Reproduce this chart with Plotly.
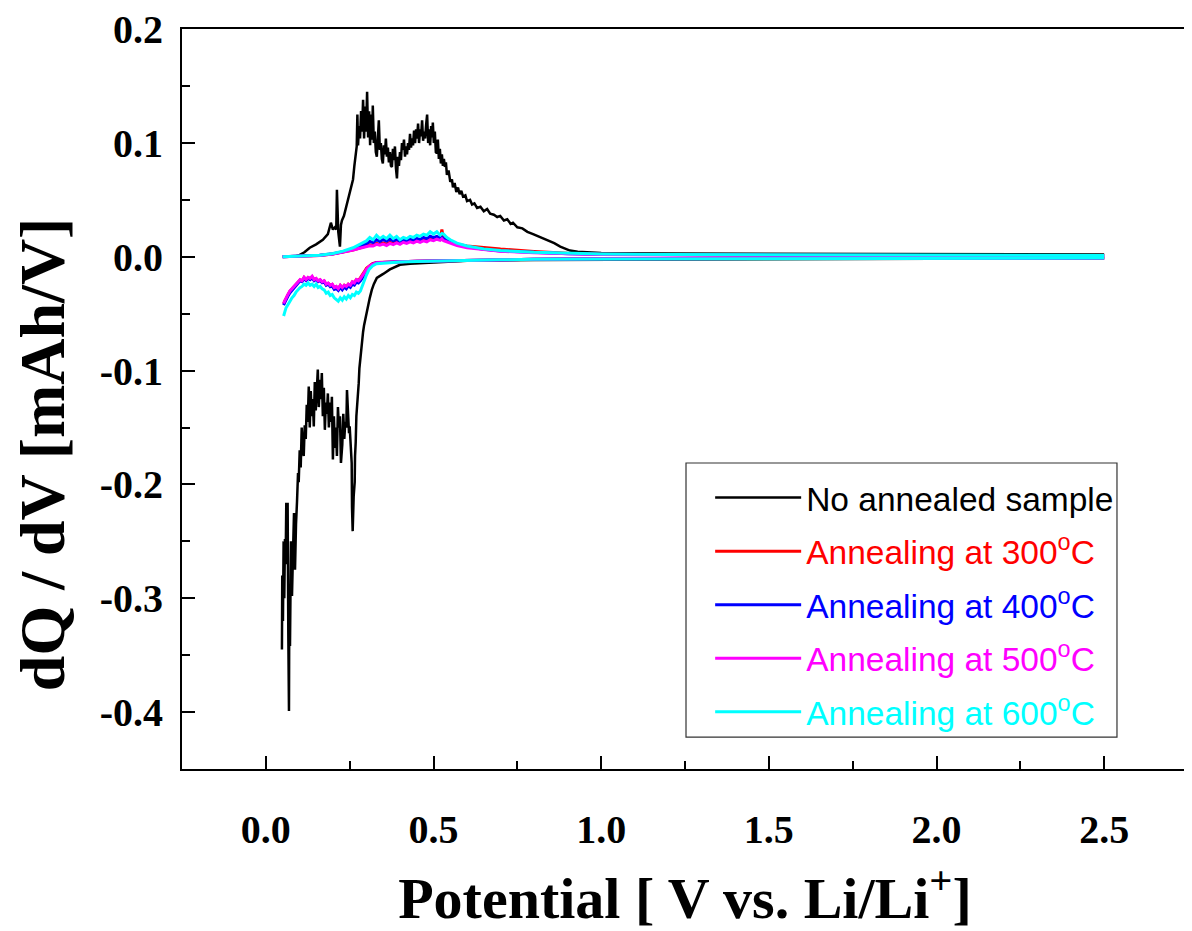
import plotly.graph_objects as go

# ---------------- data ----------------
series_names = [
    "No annealed sample",
    "Annealing at 300<sup>o</sup>C",
    "Annealing at 400<sup>o</sup>C",
    "Annealing at 500<sup>o</sup>C",
    "Annealing at 600<sup>o</sup>C",
]
series_colors = ["#000000", "#ff0000", "#0000ff", "#ff00ff", "#00ffff"]

x_tick_vals = [0.0, 0.5, 1.0, 1.5, 2.0, 2.5]
x_tick_labels = ["0.0", "0.5", "1.0", "1.5", "2.0", "2.5"]
y_tick_vals = [0.2, 0.1, 0.0, -0.1, -0.2, -0.3, -0.4]
y_tick_labels = ["0.2", "0.1", "0.0", "-0.1", "-0.2", "-0.3", "-0.4"]

x_title = "Potential [ V vs. Li/Li<sup>+</sup>]"
y_title = "dQ / dV [mAh/V]"

# --- No annealed sample: discharge (2.5 V -> 0.05 V)
black_dis_v = [2.5, 2.0, 1.5, 1.0, 0.8, 0.6, 0.528, 0.43, 0.40, 0.37, 0.35, 0.331, 0.322, 0.316,
               0.310, 0.304, 0.298, 0.293, 0.290, 0.286, 0.283, 0.281, 0.279, 0.277, 0.275, 0.272,
               0.270, 0.268, 0.266, 0.265, 0.262, 0.259, 0.257, 0.256, 0.253, 0.250, 0.248, 0.245,
               0.242, 0.240, 0.237, 0.234, 0.231, 0.228, 0.224, 0.221, 0.218, 0.215, 0.212, 0.209,
               0.206, 0.203, 0.200, 0.197, 0.194, 0.191, 0.188, 0.185, 0.182, 0.179, 0.176, 0.173,
               0.170, 0.167, 0.164, 0.161, 0.158, 0.155, 0.152, 0.149, 0.146, 0.143, 0.140, 0.137,
               0.134, 0.131, 0.128, 0.125, 0.122, 0.119, 0.116, 0.113, 0.110, 0.107, 0.104, 0.101,
               0.098, 0.096, 0.093, 0.090, 0.087, 0.084, 0.081, 0.078, 0.075, 0.072, 0.070, 0.069,
               0.067, 0.065, 0.063, 0.061, 0.059, 0.057, 0.055, 0.053, 0.051, 0.049, 0.048]
black_dis_dqdv = [-0.0012, -0.0015, -0.0018, -0.0022, -0.0028, -0.0035, -0.0045, -0.006, -0.007, -0.011,
                  -0.015, -0.0185, -0.024, -0.029, -0.036, -0.044, -0.055, -0.060, -0.066, -0.079,
                  -0.084, -0.095, -0.098, -0.111, -0.118, -0.132, -0.140, -0.163, -0.175, -0.198,
                  -0.210, -0.241, -0.220, -0.181, -0.165, -0.149, -0.155, -0.130, -0.117, -0.150,
                  -0.145, -0.160, -0.138, -0.165, -0.181, -0.140, -0.150, -0.132, -0.175, -0.150,
                  -0.168, -0.140, -0.178, -0.123, -0.145, -0.128, -0.150, -0.120, -0.138, -0.128,
                  -0.152, -0.115, -0.140, -0.102, -0.125, -0.108, -0.132, -0.099, -0.118, -0.135,
                  -0.110, -0.149, -0.125, -0.140, -0.118, -0.150, -0.114, -0.145, -0.130, -0.160,
                  -0.148, -0.175, -0.167, -0.150, -0.185, -0.170, -0.198, -0.190, -0.215, -0.235,
                  -0.275, -0.225, -0.260, -0.298, -0.250, -0.342, -0.300, -0.399, -0.330, -0.216,
                  -0.240, -0.216, -0.270, -0.248, -0.300, -0.250, -0.320, -0.280, -0.345]
# --- No annealed sample: charge (0.05 V -> 2.5 V)
black_chg_v = [0.090, 0.100, 0.115, 0.131, 0.150, 0.170, 0.185, 0.194, 0.200, 0.206, 0.210,
               0.212, 0.216, 0.221, 0.224, 0.227, 0.233, 0.238, 0.242, 0.248, 0.253, 0.257, 0.260,
               0.264, 0.268, 0.271, 0.273, 0.275, 0.278, 0.281, 0.284, 0.287, 0.290, 0.293, 0.296,
               0.299, 0.302, 0.305, 0.308, 0.311, 0.314, 0.317, 0.319, 0.322, 0.325, 0.328, 0.331,
               0.334, 0.337, 0.340, 0.343, 0.346, 0.349, 0.352, 0.355, 0.358, 0.361, 0.364, 0.367,
               0.370, 0.373, 0.376, 0.379, 0.382, 0.385, 0.388, 0.391, 0.394, 0.397, 0.400, 0.403,
               0.406, 0.409, 0.412, 0.415, 0.418, 0.421, 0.424, 0.427, 0.430, 0.433, 0.436, 0.439,
               0.442, 0.445, 0.448, 0.451, 0.454, 0.457, 0.460, 0.463, 0.466, 0.469, 0.472, 0.475,
               0.478, 0.481, 0.484, 0.487, 0.490, 0.493, 0.496, 0.498, 0.501, 0.504, 0.507, 0.510,
               0.513, 0.516, 0.519, 0.522, 0.525, 0.528, 0.531, 0.534, 0.537, 0.540, 0.545, 0.550,
               0.555, 0.558, 0.563, 0.568, 0.573, 0.578, 0.583, 0.588, 0.595, 0.600, 0.609, 0.615,
               0.622, 0.630, 0.640, 0.650, 0.660, 0.669, 0.680, 0.690, 0.699, 0.710, 0.720, 0.730,
               0.737, 0.750, 0.765, 0.780, 0.797, 0.820, 0.839, 0.860, 0.878, 0.895, 0.907, 0.930,
               0.958, 1.0, 1.2, 1.5, 2.0, 2.5]
black_chg_dqdv = [0.0005, 0.0015, 0.004, 0.008, 0.011, 0.015, 0.020, 0.030, 0.024, 0.026, 0.024,
                  0.059, 0.022, 0.009, 0.028, 0.032, 0.036, 0.042, 0.047, 0.053, 0.058, 0.064, 0.068,
                  0.080, 0.088, 0.097, 0.125, 0.098, 0.115, 0.104, 0.128, 0.110, 0.138, 0.104, 0.132,
                  0.110, 0.145, 0.105, 0.128, 0.098, 0.125, 0.103, 0.133, 0.100, 0.110, 0.092, 0.088,
                  0.105, 0.120, 0.094, 0.100, 0.086, 0.082, 0.098, 0.090, 0.104, 0.088, 0.096, 0.083,
                  0.092, 0.080, 0.079, 0.095, 0.085, 0.097, 0.078, 0.069, 0.088, 0.080, 0.092, 0.085,
                  0.100, 0.094, 0.103, 0.088, 0.097, 0.090, 0.100, 0.094, 0.108, 0.096, 0.104, 0.098,
                  0.111, 0.100, 0.112, 0.104, 0.117, 0.100, 0.112, 0.106, 0.120, 0.102, 0.110, 0.104,
                  0.116, 0.125, 0.100, 0.112, 0.098, 0.115, 0.105, 0.118, 0.100, 0.110, 0.092, 0.091,
                  0.103, 0.086, 0.095, 0.082, 0.090, 0.080, 0.086, 0.079, 0.083, 0.072, 0.076, 0.066,
                  0.068, 0.061, 0.065, 0.057, 0.061, 0.055, 0.058, 0.053, 0.054, 0.049, 0.050, 0.046,
                  0.047, 0.043, 0.044, 0.040, 0.042, 0.038, 0.037, 0.035, 0.036, 0.032, 0.033, 0.029,
                  0.030, 0.026, 0.025, 0.022, 0.020, 0.017, 0.015, 0.012, 0.009, 0.007, 0.0055, 0.0045,
                  0.0038, 0.0033, 0.0030, 0.0028, 0.0024, 0.0020]

# --- common potentials for the annealed samples
ann_dis_v = [2.5, 2.0, 1.5, 1.2, 1.0, 0.8, 0.7, 0.6, 0.5, 0.45, 0.40, 0.36, 0.33, 0.318, 0.308,
             0.300, 0.294, 0.288, 0.282, 0.276, 0.270, 0.264, 0.258, 0.252, 0.246, 0.240, 0.234,
             0.228, 0.222, 0.216, 0.210, 0.204, 0.198, 0.192, 0.186, 0.180, 0.174, 0.168, 0.162,
             0.156, 0.150, 0.144, 0.138, 0.132, 0.126, 0.120, 0.114, 0.108, 0.102, 0.096, 0.090,
             0.084, 0.078, 0.072, 0.066, 0.060, 0.056, 0.053]
ann_chg_v = [0.050, 0.08, 0.12, 0.16, 0.20, 0.23, 0.26, 0.28, 0.30, 0.31, 0.32, 0.33, 0.34, 0.35,
             0.36, 0.37, 0.38, 0.39, 0.40, 0.41, 0.42, 0.43, 0.44, 0.45, 0.46, 0.47, 0.48, 0.49,
             0.50, 0.51, 0.52, 0.525, 0.53, 0.54, 0.55, 0.57, 0.60, 0.65, 0.70, 0.80, 0.90, 1.0,
             1.2, 1.5, 2.0, 2.5]

# --- 300 C
red_dis_dqdv = [-0.0010, -0.0011, -0.0013, -0.0015, -0.0017, -0.0022, -0.0025, -0.0030, -0.0035,
                -0.0038, -0.0042, -0.0046, -0.0050, -0.0060, -0.0078, -0.0100, -0.0130, -0.0160,
                -0.0185, -0.0205, -0.0200, -0.0225, -0.0220, -0.0250, -0.0240, -0.0262, -0.0250,
                -0.0272, -0.0252, -0.0280, -0.0262, -0.0270, -0.0242, -0.0250, -0.0232, -0.0242,
                -0.0212, -0.0222, -0.0202, -0.0212, -0.0192, -0.0202, -0.0175, -0.0192, -0.0182,
                -0.0202, -0.0182, -0.0212, -0.0202, -0.0222, -0.0242, -0.0262, -0.0282, -0.0302,
                -0.0332, -0.0362, -0.0392, -0.0412]
red_chg_dqdv = [0.0, 0.0002, 0.0006, 0.0012, 0.0025, 0.004, 0.006, 0.0078, 0.0095, 0.0105, 0.010,
                0.0118, 0.011, 0.0122, 0.0112, 0.0128, 0.0118, 0.0132, 0.0122, 0.0136, 0.0128,
                0.0140, 0.0132, 0.0146, 0.0138, 0.0152, 0.0144, 0.0158, 0.0150, 0.0162, 0.0155,
                0.0240, 0.0150, 0.0140, 0.0128, 0.0110, 0.0095, 0.0080, 0.0068, 0.0048, 0.0032,
                0.0024, 0.0018, 0.0014, 0.0011, 0.0010]

# --- 400 C
blue_dis_dqdv = [-0.0010, -0.0011, -0.0013, -0.0015, -0.0017, -0.0022, -0.0025, -0.0030, -0.0035,
                 -0.0039, -0.0043, -0.0047, -0.0052, -0.0065, -0.0090, -0.0120, -0.0155, -0.0185,
                 -0.0210, -0.0230, -0.0222, -0.0248, -0.0240, -0.0268, -0.0255, -0.0280, -0.0265,
                 -0.0290, -0.0268, -0.0295, -0.0278, -0.0285, -0.0255, -0.0262, -0.0240, -0.0250,
                 -0.0220, -0.0228, -0.0208, -0.0218, -0.0198, -0.0210, -0.0185, -0.0200, -0.0188,
                 -0.0208, -0.0192, -0.0218, -0.0210, -0.0230, -0.0250, -0.0272, -0.0292, -0.0315,
                 -0.0345, -0.0375, -0.0405, -0.0425]
blue_chg_dqdv = [0.0, 0.0003, 0.0007, 0.0014, 0.0028, 0.0045, 0.007, 0.0092, 0.0115, 0.0135, 0.0125,
                 0.0150, 0.0135, 0.0152, 0.0138, 0.0156, 0.0140, 0.0152, 0.0136, 0.0150, 0.0140,
                 0.0156, 0.0146, 0.0162, 0.0152, 0.0170, 0.0160, 0.0182, 0.0168, 0.0180, 0.0165,
                 0.0172, 0.0160, 0.0150, 0.0135, 0.0110, 0.0088, 0.0066, 0.0052, 0.0037, 0.0028,
                 0.0022, 0.0018, 0.0015, 0.0012, 0.0011]

# --- 500 C
magenta_dis_dqdv = [-0.0010, -0.0011, -0.0013, -0.0015, -0.0017, -0.0022, -0.0025, -0.0030, -0.0035,
                    -0.0038, -0.0042, -0.0046, -0.0052, -0.0065, -0.0085, -0.0110, -0.0140, -0.0170,
                    -0.0190, -0.0210, -0.0200, -0.0230, -0.0220, -0.0250, -0.0240, -0.0260, -0.0250,
                    -0.0270, -0.0250, -0.0280, -0.0260, -0.0270, -0.0240, -0.0250, -0.0230, -0.0240,
                    -0.0210, -0.0220, -0.0200, -0.0210, -0.0190, -0.0200, -0.0170, -0.0190, -0.0180,
                    -0.0200, -0.0180, -0.0210, -0.0200, -0.0220, -0.0240, -0.0260, -0.0280, -0.0300,
                    -0.0330, -0.0360, -0.0390, -0.0410]
magenta_chg_dqdv = [0.0, 0.0002, 0.0006, 0.0012, 0.0025, 0.004, 0.006, 0.0075, 0.0090, 0.0098,
                    0.0095, 0.0110, 0.0102, 0.0112, 0.0100, 0.0118, 0.0108, 0.0122, 0.0110, 0.0128,
                    0.0118, 0.0132, 0.0122, 0.0138, 0.0128, 0.0140, 0.0132, 0.0150, 0.0142, 0.0155,
                    0.0145, 0.0158, 0.0142, 0.0130, 0.0120, 0.0100, 0.0080, 0.0065, 0.0050, 0.0035,
                    0.0025, 0.0020, 0.0016, 0.0013, 0.0011, 0.0010]

# --- 600 C
cyan_dis_dqdv = [-0.0010, -0.0012, -0.0014, -0.0016, -0.0018, -0.0022, -0.0026, -0.0030, -0.0036,
                 -0.0040, -0.0045, -0.0050, -0.0060, -0.0080, -0.0110, -0.0160, -0.0210, -0.0260,
                 -0.0300, -0.0320, -0.0310, -0.0340, -0.0330, -0.0360, -0.0340, -0.0370, -0.0350,
                 -0.0380, -0.0360, -0.0390, -0.0370, -0.0360, -0.0330, -0.0340, -0.0310, -0.0320,
                 -0.0290, -0.0280, -0.0260, -0.0270, -0.0240, -0.0260, -0.0240, -0.0250, -0.0230,
                 -0.0250, -0.0240, -0.0260, -0.0270, -0.0290, -0.0310, -0.0340, -0.0360, -0.0390,
                 -0.0420, -0.0450, -0.0490, -0.0520]
cyan_chg_dqdv = [0.0, 0.0003, 0.0008, 0.0015, 0.0030, 0.0050, 0.0080, 0.0110, 0.0140, 0.0170,
                 0.0150, 0.0190, 0.0160, 0.0180, 0.0160, 0.0190, 0.0160, 0.0180, 0.0150, 0.0170,
                 0.0160, 0.0180, 0.0170, 0.0190, 0.0180, 0.0200, 0.0190, 0.0220, 0.0200, 0.0220,
                 0.0190, 0.0205, 0.0200, 0.0170, 0.0150, 0.0120, 0.0095, 0.0070, 0.0055, 0.0040,
                 0.0030, 0.0024, 0.0020, 0.0017, 0.0014, 0.0012]

# discharge and charge branches are separate strokes (gap between them)
series_v = [
    black_dis_v + [None] + black_chg_v,
    ann_dis_v + [None] + ann_chg_v,
    ann_dis_v + [None] + ann_chg_v,
    ann_dis_v + [None] + ann_chg_v,
    ann_dis_v + [None] + ann_chg_v,
]
series_dqdv = [
    black_dis_dqdv + [None] + black_chg_dqdv,
    red_dis_dqdv + [None] + red_chg_dqdv,
    blue_dis_dqdv + [None] + blue_chg_dqdv,
    magenta_dis_dqdv + [None] + magenta_chg_dqdv,
    cyan_dis_dqdv + [None] + cyan_chg_dqdv,
]
series_widths = [2.5, 3, 3, 3, 3]

# ---------------- figure ----------------
fig = go.Figure()
for i, name in enumerate(series_names):
    fig.add_trace(go.Scatter(
        x=series_v[i], y=series_dqdv[i], mode="lines", connectgaps=False,
        name=f"<span style='color:{series_colors[i]}'>{name}</span>",
        legendgroup=f"g{i}",
        line=dict(color=series_colors[i], width=series_widths[i]),
    ))

serif_bold = dict(family="Liberation Serif, Times New Roman, serif", color="black", weight="bold")

# the page body adds an 8px offset: figure is 8px smaller, margins 8px smaller
fig.update_layout(
    width=1184, height=923,
    margin=dict(l=174, r=4, t=21, b=162, autoexpand=False),
    paper_bgcolor="white", plot_bgcolor="white",
    showlegend=True,
    legend=dict(
        x=0.525, y=0.405, xanchor="left", yanchor="top",
        bgcolor="rgba(0,0,0,0)", borderwidth=0,
        font=dict(family="Liberation Sans, Arial, sans-serif", size=33.5, color="black"),
        tracegroupgap=7, itemwidth=86,
    ),
    shapes=[dict(type="rect", xref="paper", yref="paper",
                 x0=0.501, x1=0.9294, y0=0.0432, y1=0.4135,
                 line=dict(color="#333333", width=1.2), fillcolor="rgba(0,0,0,0)", layer="above")],
    annotations=[dict(text=y_title, textangle=-90, xref="paper", yref="paper",
                      x=-0.138, y=0.4257, xanchor="center", yanchor="middle", showarrow=False,
                      font=dict(size=64, **serif_bold))],
    xaxis=dict(
        range=[-0.25, 2.75], tickvals=x_tick_vals, ticktext=x_tick_labels,
        showgrid=False, zeroline=False,
        showline=True, linecolor="black", linewidth=2, mirror=True,
        ticks="inside", ticklen=13, tickwidth=2, tickcolor="black",
        minor=dict(dtick=0.25, ticks="inside", ticklen=8, tickwidth=2, tickcolor="black"),
        tickfont=dict(size=40, **serif_bold),
        ticklabelstandoff=24, ticklabeloverflow="allow",
        title=dict(text=x_title, font=dict(size=58, **serif_bold), standoff=27),
    ),
    yaxis=dict(
        range=[-0.45, 0.2002], tickvals=y_tick_vals, ticktext=y_tick_labels,
        showgrid=False, zeroline=False,
        showline=True, linecolor="black", linewidth=2, mirror=True,
        ticks="inside", ticklen=13, tickwidth=2, tickcolor="black",
        minor=dict(dtick=0.05, ticks="inside", ticklen=8, tickwidth=2, tickcolor="black"),
        tickfont=dict(size=40, **serif_bold),
        ticklabelstandoff=9, ticklabeloverflow="allow",
    ),
)

fig.write_html("out.html")
